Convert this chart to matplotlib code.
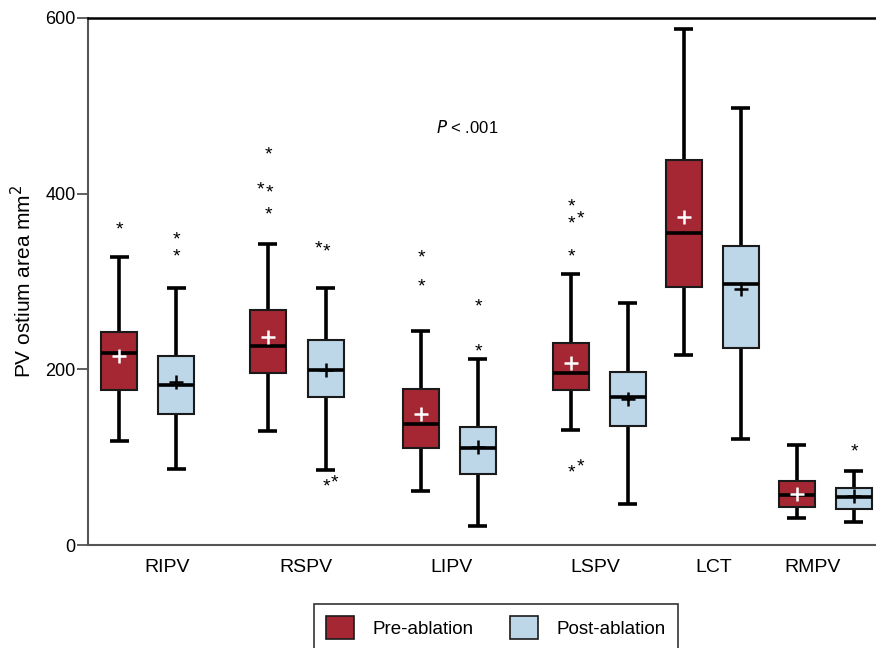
import matplotlib
matplotlib.use("Agg")
import matplotlib.pyplot as plt
from matplotlib.patches import Patch

plt.rcParams['font.family'] = ['Liberation Sans', 'DejaVu Sans']

categories = ["RIPV", "RSPV", "LIPV", "LSPV", "LCT", "RMPV"]
series = ["Pre-ablation", "Post-ablation"]

# five-number summaries: [lower whisker, Q1, median, Q3, upper whisker], mean
pre_stats = [
    [118, 177, 219, 243, 328],
    [130, 196, 226, 267, 343],
    [61, 110, 138, 178, 244],
    [131, 177, 196, 230, 309],
    [216, 294, 355, 438, 588],
    [31, 43, 57, 73, 114],
]
pre_means = [215, 237, 149, 207, 373, 58]
post_stats = [
    [87, 149, 182, 215, 293],
    [85, 169, 199, 233, 293],
    [22, 81, 111, 134, 212],
    [47, 135, 169, 197, 276],
    [121, 224, 297, 340, 497],
    [26, 41, 55, 65, 84],
]
post_means = [186, 199, 112, 166, 292, 56]

pre_outliers = [
    [359],
    [444, 404, 401, 376],
    [327, 294],
    [385, 371, 365, 328, 82, 89],
    [],
    [],
]
post_outliers = [
    [347, 328],
    [337, 334, 66, 71],
    [271, 220],
    [],
    [],
    [106],
]

# layout (pixel-like x units)
pre_pos = [119, 268, 421, 571, 684, 797]
post_pos = [176, 326, 478, 628, 741, 854]
label_pos = [167, 306, 452, 595, 714, 813]
pre_out_dx = [[0], [0, -8, 1, 0], [0, 0], [0, 9, 0, 0, 0, 9], [], []]
post_out_dx = [[0, 0], [-8, 0, 0, 8], [0, 0], [], [], [0]]

pre_color = "#A52733"
post_color = "#BDD6E8"

fig = plt.figure(figsize=(8.76, 6.48), dpi=100)
ax = fig.add_axes([88 / 876, 1 - 545 / 648, 1 - 88 / 876, (545 - 18) / 648])
ax.set_xlim(88, 876)
ax.set_ylim(0, 600)

box_w = 36
cap_w = 19


def draw_box(x, st, mean, color, mean_color):
    lo, q1, med, q3, hi = st
    ax.vlines(x, lo, q1, color="black", lw=2.6, zorder=2)
    ax.vlines(x, q3, hi, color="black", lw=2.6, zorder=2)
    ax.hlines([lo, hi], x - cap_w / 2, x + cap_w / 2, color="black", lw=2.6, zorder=2)
    ax.bar(x, q3 - q1, bottom=q1, width=box_w, color=color, edgecolor="#1a1a1a",
           linewidth=1.5, zorder=3)
    ax.hlines(med, x - box_w / 2, x + box_w / 2, color="black", lw=2.6, zorder=4)
    ax.plot(x, mean, marker="+", color=mean_color, markersize=10, mew=1.8, zorder=5)


for i in range(len(categories)):
    draw_box(pre_pos[i], pre_stats[i], pre_means[i], pre_color, "white")
    draw_box(post_pos[i], post_stats[i], post_means[i], post_color, "black")
    for v, dx in zip(pre_outliers[i], pre_out_dx[i]):
        ax.text(pre_pos[i] + dx, v, "*", ha="center", va="center", fontsize=14,
                color="black", zorder=5)
    for v, dx in zip(post_outliers[i], post_out_dx[i]):
        ax.text(post_pos[i] + dx, v, "*", ha="center", va="center", fontsize=14,
                color="black", zorder=5)

ax.text(467, 475, r"$P$ < .001", ha="center", va="center", fontsize=12)

ax.set_xticks(label_pos)
ax.set_xticklabels(categories, fontsize=14)
ax.tick_params(axis="x", length=0, pad=10)
ax.set_yticks([0, 200, 400, 600])
ax.tick_params(axis="y", labelsize=13, length=8, width=1.2, color="#444444", pad=1)
ax.set_ylabel("PV ostium area mm$^2$", fontsize=15, labelpad=7)

for s in ["left", "bottom"]:
    ax.spines[s].set_color("#555555")
    ax.spines[s].set_linewidth(1.5)
ax.spines["top"].set_color("black")
ax.spines["top"].set_linewidth(1.8)
ax.spines["right"].set_visible(False)

handles = [Patch(facecolor=pre_color, edgecolor="#1a1a1a", linewidth=1.2),
           Patch(facecolor=post_color, edgecolor="#1a1a1a", linewidth=1.2)]
leg = fig.legend(handles, series, loc="upper center", bbox_to_anchor=(496 / 876, 1 - 604 / 648),
                 ncol=2, fontsize=13.5, frameon=True, fancybox=False, edgecolor="black",
                 handlelength=1.5, handleheight=1.5, borderpad=0.65, columnspacing=1.9,
                 handletextpad=1.0, borderaxespad=0)
leg.get_frame().set_linewidth(1.2)

fig.savefig("out.png", dpi=100)
